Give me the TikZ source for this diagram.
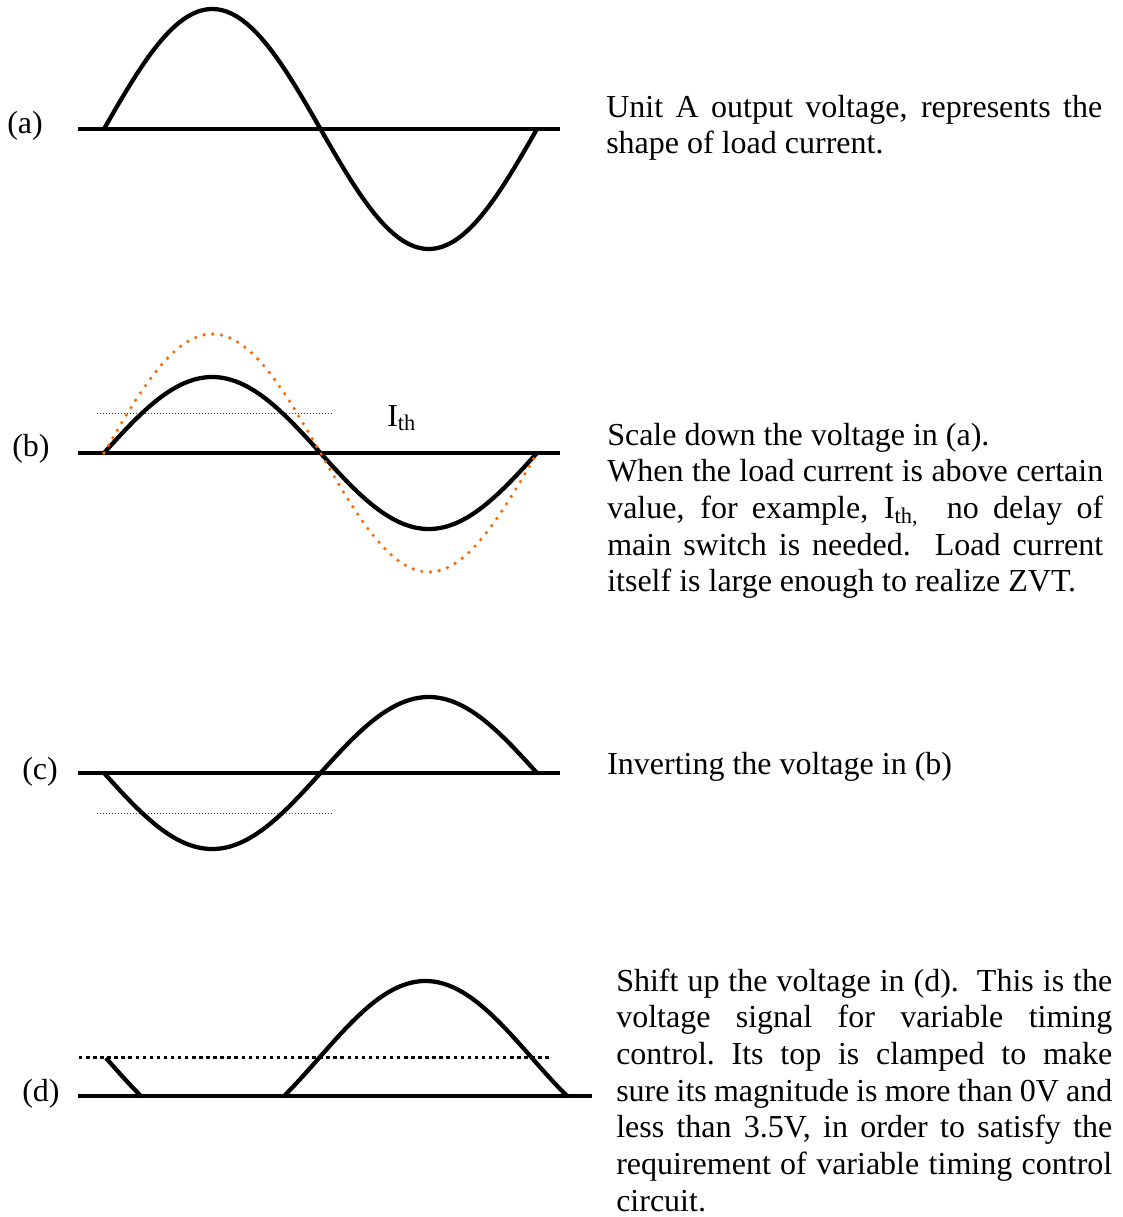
\documentclass[tikz,border=0pt]{standalone}
\usepackage{fontspec}
\setmainfont{Liberation Serif}
\definecolor{dotorange}{RGB}{255,102,0}
\begin{document}
\begin{tikzpicture}[x=0.75pt,y=-0.75pt,
  axis/.style={line width=2.4pt},
  wave/.style={line width=3.2pt, line join=round},
  thr/.style={line width=0.9pt, black!75, dash pattern=on 0.75pt off 1.5pt},
  orangedots/.style={line width=2.7pt, color=dotorange, line cap=round, dash pattern=on 0pt off 6.6pt},
  clampline/.style={line width=2.4pt, dash pattern=on 2.6pt off 2.7pt},
  lbl/.style={anchor=base west, inner sep=0pt, font=\fontsize{24}{27.5}\selectfont},
  desc/.style={lbl, text width=372pt, align=justify},
]
\useasboundingbox (0,0) rectangle (1123,1217);

% ---------- (a)
\node[lbl] (la) at (7,133) {(a)};
\draw[axis] (78,129) -- (560,129);
\draw[wave] plot[domain=0:360, samples=121, smooth] ({104+\x*1.20278},{129-120*sin(\x)});
\node[desc] (ta) at (606,117) {Unit A output voltage, represents the\linebreak shape of load current.};

% ---------- (b)
\node[lbl] (lb) at (12,456) {(b)};
\draw[axis] (78,453) -- (560,453);
\draw[thr] (97,413.5) -- (332,413.5);
\draw[wave] plot[domain=0:360, samples=121, smooth] ({104+\x*1.20278},{453-76*sin(\x)});
\draw[orangedots] plot[domain=0:360, samples=121, smooth] ({104+\x*1.20278},{453-119*sin(\x)});
\node[lbl] (ith) at (387,426) {I\textsubscript{th}};
\node[desc] (tb) at (607,445) {Scale down the voltage in (a).\\
When the load current is above certain\linebreak
value, for example, I\textsubscript{th,}\ \ no delay of\linebreak
main switch is needed.\ \ Load current\linebreak
itself is large enough to realize ZVT.};

% ---------- (c)
\node[lbl] (lc) at (22,779) {(c)};
\draw[axis] (78,773) -- (560,773);
\draw[thr] (97,813.5) -- (332,813.5);
\draw[wave] plot[domain=0:360, samples=121, smooth] ({104+\x*1.20278},{773+76*sin(\x)});
\node[lbl] (tc) at (607,774) {Inverting the voltage in (b)};

% ---------- (d)
\node[lbl] (ld) at (22,1101) {(d)};
\draw[axis] (78,1096) -- (592,1096);
\draw[clampline] (79,1057.5) -- (552,1057.5);
\draw[wave] plot[domain=0:30, samples=11, smooth] ({106+\x*1.18333},{1058+77*sin(\x)});
\draw[wave] plot[domain=150:390, samples=91, smooth] ({106+\x*1.18333},{1058+77*sin(\x)});
\node[desc] (td) at (616,991) {Shift up the voltage in (d).\ \ This is the\linebreak
voltage signal for variable timing\linebreak
control.\@ Its top is clamped to make\linebreak
sure its magnitude is more than 0V and\linebreak
less than 3.5V, in order to satisfy the\linebreak
requirement of variable timing control\linebreak
circuit.};
\end{tikzpicture}
\end{document}
